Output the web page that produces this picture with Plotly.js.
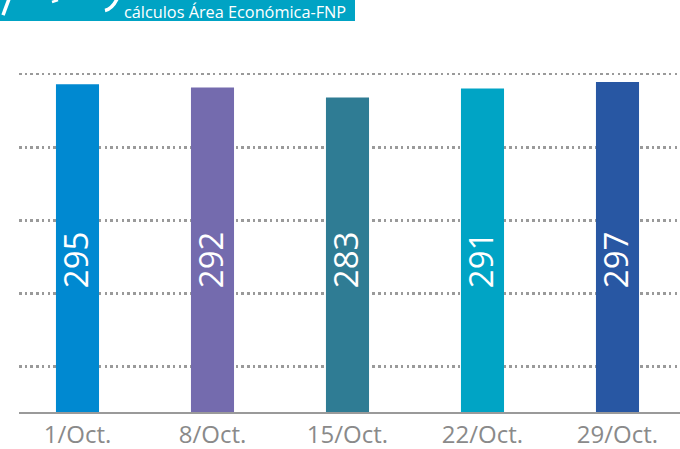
<!DOCTYPE html>
<html>
<head>
<meta charset="utf-8">
<script src="https://cdn.plot.ly/plotly-3.0.1.min.js"></script>
<style>html,body{margin:0;padding:0;background:#fff;}#chart{width:680px;height:449px;}</style>
</head>
<body>
<div id="chart"></div>
<script>
// ---- data ----
const categories = ["1/Oct.", "8/Oct.", "15/Oct.", "22/Oct.", "29/Oct."];
const values = [295, 292, 283, 291, 297];
const barColors = ["#0089d1", "#746bae", "#2f7c94", "#00a4c5", "#2857a3"];
const sourceText = "cálculos Área Económica-FNP";

// ---- geometry helpers (pixel -> paper) ----
const W = 680, H = 449;
const M = {l: 19, r: 0, t: 30, b: 36.5};
const pw = W - M.l - M.r, ph = H - M.t - M.b;
const px = x => (x - M.l) / pw;
const py = y => (H - M.b - y) / ph;

const labelY = 137;

const trace = {
  type: "bar",
  x: categories,
  y: values,
  marker: {color: barColors, line: {width: 0}},
  hoverinfo: "skip"
};

const annotations = categories.map((c, i) => ({
  x: c, y: labelY, xref: "x", yref: "y",
  text: String(values[i]),
  showarrow: false, textangle: -90,
  xshift: -2,
  font: {family: "Open Sans", size: 33, color: "#ffffff"}
}));

annotations.push({
  xref: "paper", yref: "paper",
  x: px(123), y: py(0), xanchor: "left", yanchor: "top",
  borderpad: 0,
  text: sourceText, showarrow: false,
  font: {family: "Open Sans", size: 16.3, color: "#ffffff"}
});

const shapes = [
  {type: "rect", xref: "paper", yref: "paper",
   x0: px(0), x1: px(355), y0: py(21), y1: py(-2),
   fillcolor: "#00a3c4", line: {width: 0}, layer: "below"},
  {type: "path", xref: "paper", yref: "paper",
   path: `M ${px(3)} ${py(15)} L ${px(9)} ${py(-1)}`,
   line: {color: "#ffffff", width: 3.5}},
  {type: "path", xref: "paper", yref: "paper",
   path: `M ${px(52)} ${py(2)} L ${px(58)} ${py(0)}`,
   line: {color: "#ffffff", width: 2.5}},
  {type: "path", xref: "paper", yref: "paper",
   path: `M ${px(105)} ${py(10.5)} Q ${px(112)} ${py(9)} ${px(117)} ${py(-1)}`,
   line: {color: "#ffffff", width: 3.5}}
];

const layout = {
  width: W, height: H,
  margin: M,
  paper_bgcolor: "#ffffff",
  plot_bgcolor: "#ffffff",
  showlegend: false,
  bargap: 0.681,
  xaxis: {
    type: "category",
    range: [-0.4333, 4.463],
    showgrid: false,
    zeroline: false,
    showline: true, linecolor: "#9a9a9a", linewidth: 2,
    ticks: "",
    tickfont: {family: "Open Sans", size: 24, color: "#8a8a8a"},
    fixedrange: true
  },
  yaxis: {
    range: [0, 343.7],
    showticklabels: false,
    ticks: "",
    zeroline: false,
    showline: false,
    showgrid: true,
    tick0: 40.8, dtick: 65.8,
    gridcolor: "#9a9a9a", gridwidth: 2.5, griddash: "2.5px,3.2px",
    fixedrange: true
  },
  annotations: annotations,
  shapes: shapes
};

Plotly.newPlot("chart", [trace], layout, {displayModeBar: false, staticPlot: true});
</script>
</body>
</html>
